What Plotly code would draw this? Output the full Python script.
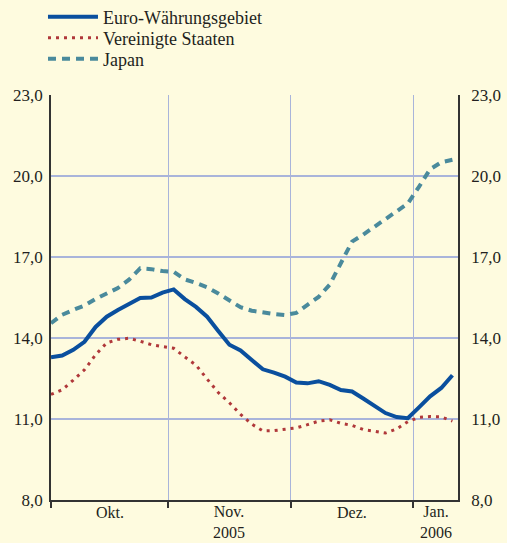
import plotly.graph_objects as go

# business days sampled every second trading day (Oct 2005 - Jan 2006)
dates = [
    "2005-10-03", "2005-10-05", "2005-10-07", "2005-10-11", "2005-10-13",
    "2005-10-17", "2005-10-19", "2005-10-21", "2005-10-25", "2005-10-27",
    "2005-10-31", "2005-11-02", "2005-11-04", "2005-11-08", "2005-11-10",
    "2005-11-14", "2005-11-16", "2005-11-18", "2005-11-22", "2005-11-24",
    "2005-11-28", "2005-11-30", "2005-12-02", "2005-12-06", "2005-12-08",
    "2005-12-12", "2005-12-14", "2005-12-16", "2005-12-20", "2005-12-22",
    "2005-12-26", "2005-12-28", "2005-12-30", "2006-01-03", "2006-01-05",
    "2006-01-09", "2006-01-11",
]

euro = [13.29, 13.35, 13.56, 13.86, 14.41, 14.79, 15.04, 15.25, 15.48, 15.50,
        15.68, 15.80, 15.44, 15.15, 14.79, 14.26, 13.75, 13.54, 13.19, 12.84,
        12.72, 12.57, 12.35, 12.32, 12.40, 12.26, 12.07, 12.02, 11.76, 11.49,
        11.22, 11.07, 11.03, 11.43, 11.84, 12.15, 12.62]

usa = [11.91, 12.08, 12.44, 12.82, 13.38, 13.82, 13.95, 13.99, 13.88, 13.75,
       13.68, 13.62, 13.30, 13.00, 12.48, 11.98, 11.60, 11.17, 10.81, 10.56,
       10.57, 10.61, 10.67, 10.79, 10.92, 10.97, 10.84, 10.76, 10.61, 10.55,
       10.48, 10.63, 10.90, 11.06, 11.09, 11.08, 10.92]

japan = [14.55, 14.86, 15.04, 15.20, 15.45, 15.65, 15.85, 16.16, 16.58, 16.55,
         16.48, 16.45, 16.17, 16.04, 15.88, 15.65, 15.38, 15.14, 15.01, 14.94,
         14.89, 14.85, 14.93, 15.23, 15.52, 15.98, 16.78, 17.57, 17.83, 18.11,
         18.39, 18.66, 18.98, 19.60, 20.25, 20.51, 20.60]

series_names = ["Euro-Währungsgebiet", "Vereinigte Staaten", "Japan"]
y_ticks = [8.0, 11.0, 14.0, 17.0, 20.0, 23.0]
month_bounds = ["2005-10-03", "2005-11-01", "2005-12-01", "2006-01-02"]
month_labels = ["Okt.", "Nov.", "Dez.", "Jan."]
month_mids = ["2005-10-17 12:00", "2005-11-16", "2005-12-16", "2006-01-06"]
year_labels = ["", "2005", "", "2006"]

FONT = "Liberation Serif"
TXT = "#231f20"
BG = "#FEFBDF"
GRID = "#A9B4DA"
PLOT_H = 405

fig = go.Figure()
fig.add_trace(go.Scatter(x=dates, y=euro, name=series_names[0], mode="lines",
                         legend="legend",
                         line=dict(color="#0A4F9E", width=4)))
fig.add_trace(go.Scatter(x=dates, y=usa, name=series_names[1], mode="lines",
                         legend="legend2",
                         line=dict(color="#B0383A", width=3, dash="3px,5px")))
fig.add_trace(go.Scatter(x=dates, y=japan, name=series_names[2], mode="lines",
                         legend="legend3",
                         line=dict(color="#4A8A9C", width=4, dash="8px,6px")))
# invisible trace to anchor the right-hand axis
fig.add_trace(go.Scatter(x=dates, y=euro, yaxis="y2", mode="lines",
                         line=dict(width=0), opacity=0, showlegend=False,
                         hoverinfo="skip"))

for lab, yr, mid in zip(month_labels, year_labels, month_mids):
    if yr:
        fig.add_annotation(x=mid, y=-42 / PLOT_H, xref="x", yref="paper",
                           text=lab + "<br>" + yr, showarrow=False,
                           yanchor="bottom", borderpad=0,
                           font=dict(family=FONT, size=16, color=TXT))
    else:
        fig.add_annotation(x=mid, y=-12 / PLOT_H, xref="x", yref="paper",
                           text=lab, showarrow=False, yanchor="middle",
                           borderpad=0,
                           font=dict(family=FONT, size=16, color=TXT))

yaxis_common = dict(range=[8, 23], tickvals=y_ticks, tickformat=".1f",
                    ticks="", tickfont=dict(family=FONT, size=17, color=TXT),
                    showline=True, linecolor="#333333", linewidth=1.5,
                    zeroline=False, fixedrange=True)


def legend_box(row_px):
    return dict(x=-0.0197, y=(500 - row_px) / PLOT_H, xanchor="left",
                yanchor="middle", bgcolor="rgba(0,0,0,0)", itemwidth=50,
                borderwidth=0,
                font=dict(family=FONT, size=18, color=TXT))


fig.update_layout(
    width=507, height=543,
    margin=dict(l=51, r=49, t=95, b=43, autoexpand=False),
    paper_bgcolor=BG, plot_bgcolor=BG,
    separators=",.",
    showlegend=True,
    legend=legend_box(17),
    legend2=legend_box(38),
    legend3=legend_box(59),
    xaxis=dict(type="date", range=["2005-10-03", "2006-01-12"],
               rangebreaks=[dict(bounds=["sat", "mon"])],
               tickvals=month_bounds, ticktext=["", "", "", ""],
               ticks="outside", ticklen=6, tickcolor="#333333", tickwidth=1.5,
               showgrid=True, gridcolor=GRID, gridwidth=1,
               showline=True, linecolor="#333333", linewidth=2,
               zeroline=False, fixedrange=True),
    yaxis=dict(**yaxis_common, side="left", showgrid=True, gridcolor=GRID,
               gridwidth=1.5, ticklabelstandoff=3),
    yaxis2=dict(**yaxis_common, side="right", overlaying="y", anchor="x",
                showgrid=False, ticklabelstandoff=8),
)

fig.write_html("out.html",
               config={"displayModeBar": False},
               post_script="document.body.style.margin='0';"
                           "document.body.style.padding='0';")
